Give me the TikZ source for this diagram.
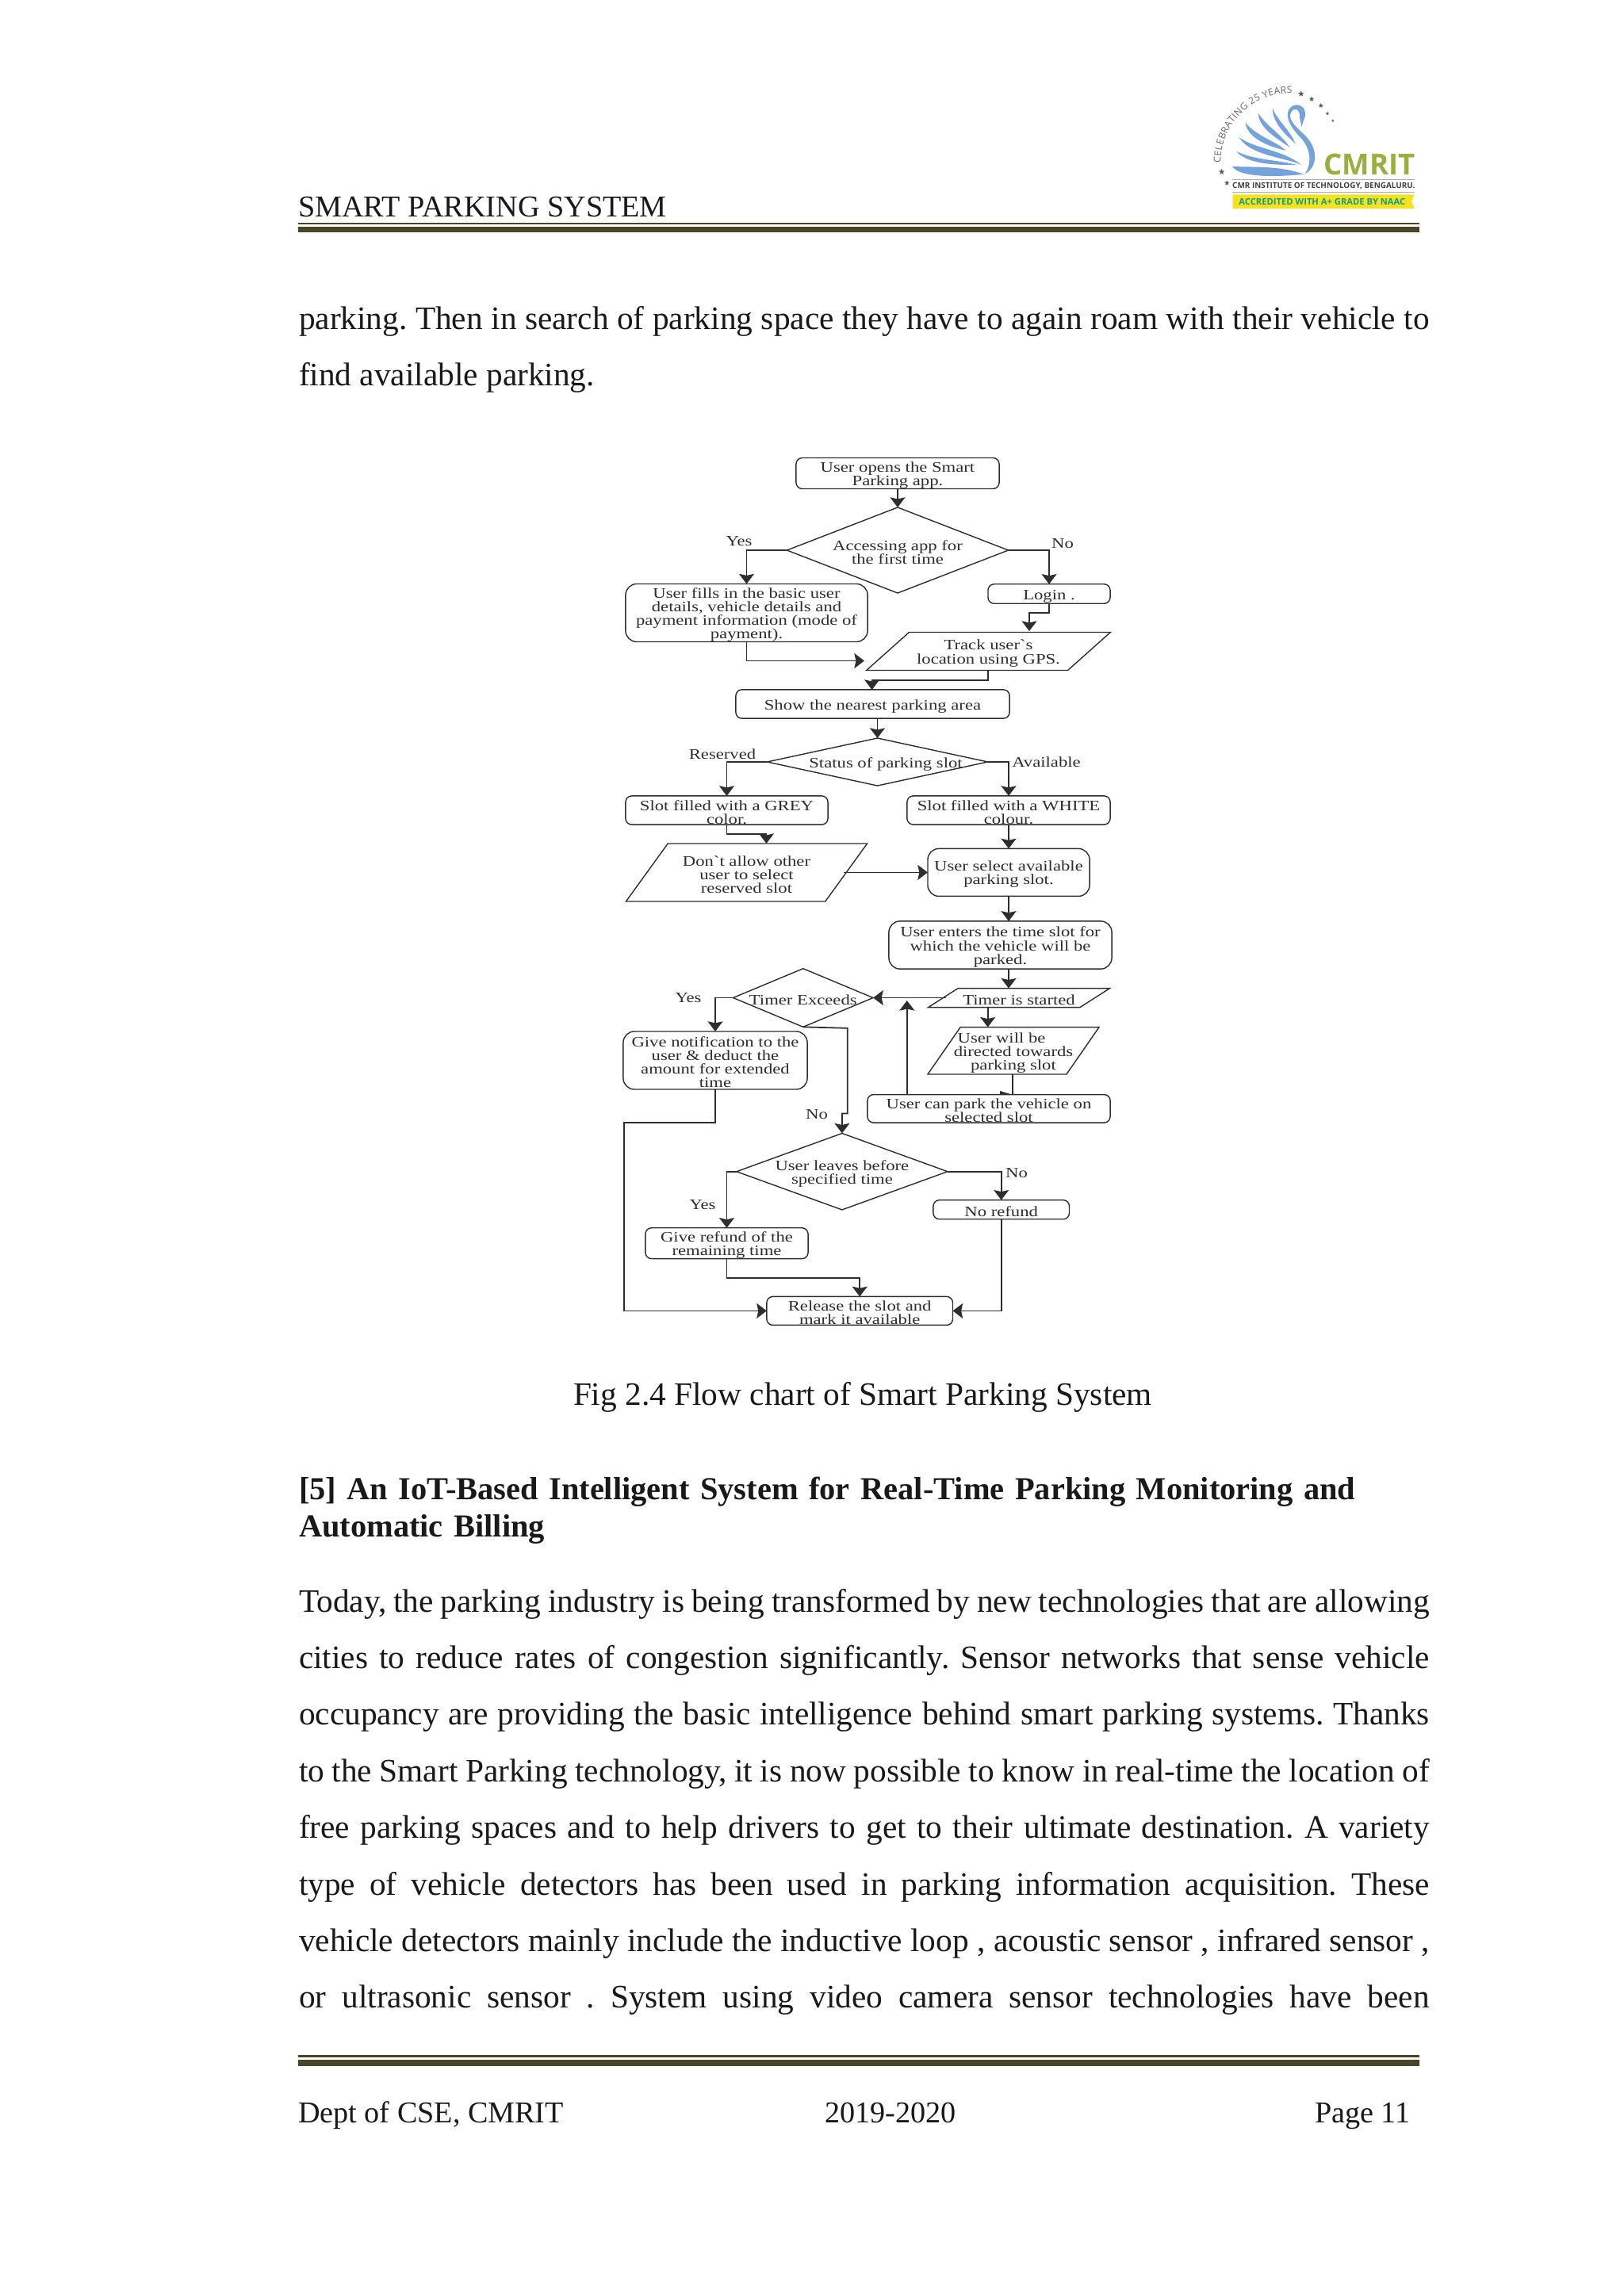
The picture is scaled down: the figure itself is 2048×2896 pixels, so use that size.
\documentclass[tikz,border=0pt]{standalone}
\usepackage{fontspec}
\setmainfont{Liberation Serif}
\newfontfamily\flowfont[FakeStretch=1.24]{Liberation Serif}
\newfontfamily\logofont{Open Sans}
\usetikzlibrary{arrows.meta, shapes.geometric, decorations.text}
\definecolor{rulecol}{HTML}{4A4526}
\definecolor{swancol}{HTML}{74A3DB}
\definecolor{cmritcol}{HTML}{9BAF3E}
\definecolor{bannercol}{HTML}{F5E21F}
\definecolor{naaccol}{HTML}{169C86}
\definecolor{flowcol}{HTML}{2E2E2E}
\frenchspacing
\newcommand{\toplead}{\rule{0pt}{5.1pt}}
\tikzset{
    every node/.style={inner sep=0pt, outer sep=0pt},
    pagetext/.style={font=\fontsize{11.75}{20.3}\selectfont, text=black!90},
    hfoot/.style={pagetext, anchor=base west, font=\fontsize{10.85}{13}\selectfont},
    bodypara/.style={pagetext, anchor=north west, text width=14.25cm, align=justify},
    flowtext/.style={font=\flowfont\fontsize{5.2}{4.85}\selectfont, text=flowcol, align=center},
    procbox/.style={flowtext, draw=flowcol, line width=.4pt, fill=white, rounded corners=2.2pt},
    softbox/.style={procbox, rounded corners=4pt},
    decision/.style={flowtext, draw=flowcol, line width=.4pt, diamond},
    inputbox/.style={flowtext, draw=flowcol, line width=.4pt, trapezium, trapezium stretches=true},
    flow/.style={draw=flowcol, line width=.5pt, -{Stealth[length=3.6pt,width=5.4pt,inset=.6pt]}},
    star5/.style={star, star points=5, star point ratio=2.4, fill=black!65}
}
\begin{document}
\begin{tikzpicture}[x=0.01cm, y=-0.01cm]
    \useasboundingbox (0,0) rectangle (2048,2896);

    % 1. Header with logo
    \node[hfoot] (header) at (376,273) {SMART PARKING SYSTEM};
    \fill[rulecol] (376,280.6) rectangle (1790,282.6);
    \fill[rulecol] (376,285.7) rectangle (1790,293.4);

    \begin{scope}[shift={(1480,80)}, x=0.003333cm, y=-0.003333cm]
        \foreach \sx/\sy/\sz/\i in {483/115/8/1, 523/135/7/2, 558/160/6.5/3, 583/190/5/4, 603/217/4/5, 182/411/8/6, 202/453/7/7} {
            \node[star5, minimum size=\sz*.28pt] (logostar-\i) at (\sx,\sy) {};
        }
        \path[decorate, decoration={text along path, text align={fit to path},
            text={|\logofont\fontsize{3.4}{4}\selectfont\color{black!60}|CELEBRATING 25 YEARS}}]
            (178,376) arc[start angle=180, end angle=272, radius=262];
        % swan: feathers, tips from the tail upwards
        \fill[swancol] (222,390) .. controls (290,395) and (400,385) .. (492,420) .. controls (400,430) and (250,435) .. cycle;
        \fill[swancol] (238,333) .. controls (300,365) and (390,365) .. (470,385) .. controls (400,385) and (280,385) .. cycle;
        \fill[swancol] (248,280) .. controls (310,325) and (410,325) .. (485,385) .. controls (420,355) and (290,350) .. cycle;
        \fill[swancol] (272,225) .. controls (320,280) and (390,295) .. (425,330) .. controls (380,320) and (280,290) .. cycle;
        \fill[swancol] (320,188) .. controls (355,240) and (410,270) .. (440,318) .. controls (395,285) and (325,250) .. cycle;
        \fill[swancol] (375,170) .. controls (395,220) and (440,250) .. (462,305) .. controls (420,265) and (375,225) .. cycle;
        \fill[swancol] (498,418) .. controls (525,380) and (520,320) .. (480,280) .. controls (440,240) and (415,190) .. (445,165)
            .. controls (470,145) and (505,165) .. (498,200) -- (485,240) -- (478,205) .. controls (480,170) and (455,165) .. (445,185)
            .. controls (430,215) and (470,245) .. (500,275) .. controls (550,325) and (545,395) .. cycle;
        \node[font=\logofont\bfseries\fontsize{10.4}{12}\selectfont, text=cmritcol, anchor=base east] (logoname) at (916,422) {CMRIT};
        \draw[black!30, line width=.3pt] (222,440) -- (912,440) (222,488) -- (912,488);
        \node[font=\logofont\bfseries\fontsize{2.82}{4}\selectfont, text=black!75] (logoline) at (569,463) {CMR INSTITUTE OF TECHNOLOGY, BENGALURU.};
        \fill[bannercol] (224,497) -- (912,497) -- (902,523) -- (912,550) -- (224,550) -- cycle;
        \node[font=\logofont\bfseries\fontsize{3.18}{4}\selectfont, text=naaccol] (logobanner) at (563,524) {ACCREDITED WITH A+ GRADE BY NAAC};
    \end{scope}

    % 2. Text above the chart
    \node[bodypara] (intro) at (377,386) {parking. Then in search of parking space they have to again roam with their vehicle to\linebreak find available parking.};

    % 3. Boxes of the flow chart
    \node[procbox, minimum width=2.56cm, minimum height=.365cm] (open) at (1132,597) {\toplead User opens the Smart\\Parking app.};
    \node[decision, aspect=2.6, minimum width=2.79cm, minimum height=1.08cm] (access) at (1132,694) {\toplead Accessing app for\\the first time};
    \node[softbox, minimum width=3.05cm, minimum height=.72cm] (fills) at (941.5,773) {\toplead User fills in the basic user\\details, vehicle details and\\payment information (mode of\\payment).};
    \node[procbox, minimum width=1.54cm, minimum height=.245cm] (login) at (1323,749) {\toplead Login .};
    \node[inputbox, trapezium left angle=38.7, trapezium right angle=141.3, minimum width=3.09cm, minimum height=.48cm] (track) at (1246.5,821.5) {\toplead Track user`s\\location using GPS.};
    \node[procbox, minimum width=3.45cm, minimum height=.363cm] (show) at (1100.5,888) {\toplead Show the nearest parking area};
    \node[decision, inner sep=-1pt, aspect=4.6, minimum width=2.78cm, minimum height=.6cm] (status) at (1106.5,961) {\toplead\hspace*{6pt}Status of parking slot};
    \node[procbox, minimum width=2.55cm, minimum height=.362cm] (greyslot) at (916.5,1022) {\toplead Slot filled with a GREY\\color.};
    \node[procbox, minimum width=2.56cm, minimum height=.362cm] (whiteslot) at (1272,1022) {\toplead Slot filled with a WHITE\\colour.};
    \node[inputbox, trapezium left angle=50.6, trapezium right angle=129.4, minimum width=3.05cm, minimum height=.73cm] (dont) at (941.5,1100.5) {\toplead Don`t allow other\\user to select\\reserved slot};
    \node[softbox, minimum width=2.04cm, minimum height=.6cm] (select) at (1272,1100.4) {\toplead User select available\\parking slot.};
    \node[softbox, minimum width=2.81cm, minimum height=.603cm] (enter) at (1261.5,1192) {\toplead User enters the time slot for\\which the vehicle will be\\parked.};
    \node[inputbox, trapezium left angle=27.6, trapezium right angle=152.4, minimum width=2.3cm, minimum height=.241cm] (timer) at (1285,1258.6) {\toplead Timer is started};
    \node[decision, inner sep=-.6pt, aspect=2.4, minimum width=1.765cm, minimum height=.736cm] (exceeds) at (1012.8,1258.5) {\toplead Timer Exceeds};
    \node[inputbox, inner xsep=-2.6pt, trapezium left angle=54, trapezium right angle=126, minimum width=2.17cm, minimum height=.594cm] (directed) at (1278,1325.3) {\toplead User will be\hspace*{8.5pt}\\directed towards\hspace*{4pt}\\parking slot};
    \node[softbox, minimum width=2.32cm, minimum height=.73cm] (notify) at (902,1337.5) {\toplead Give notification to the\\user \& deduct the\\amount for extended\\time};
    \node[decision, inner sep=-.6pt, aspect=2.75, minimum width=2.66cm, minimum height=.964cm] (leaves) at (1061.9,1477.7) {\toplead User leaves before\\specified time};
    \node[procbox, minimum width=1.715cm, minimum height=.241cm] (norefund) at (1262.7,1525.7) {\toplead No refund};
    \node[procbox, minimum width=2.05cm, minimum height=.365cm] (refund) at (916.5,1568.2) {\toplead Give refund of the\\remaining time};
    \node[procbox, minimum width=2.345cm, minimum height=.36cm] (release) at (1084.2,1653.4) {\toplead Release the slot and\\mark it available};

    % 4. Labels on the branches
    \node[flowtext] (lab-yes1) at (932,683) {Yes};
    \node[flowtext] (lab-no1) at (1340,686) {No};
    \node[flowtext] (lab-res) at (911,951.6) {Reserved};
    \node[flowtext] (lab-ava) at (1319.5,961.3) {Available};
    \node[flowtext] (lab-yes2) at (868,1258.5) {Yes};
    \node[flowtext] (lab-no2) at (1030,1405.8) {No};
    \node[flowtext] (lab-yes3) at (886,1520) {Yes};
    \node[flowtext] (lab-no3) at (1282,1479.7) {No};

    % 5. Ends of connectors which do not meet a node in its middle
    \coordinate (trackin) at (1298,796);
    \coordinate (trackleft) at (1090,833.5);
    \coordinate (trackout) at (1246,845.6);
    \coordinate (showin) at (1099.6,870);
    \coordinate (dontin) at (966.5,1064);
    \coordinate (dontout) at (1063.6,1100.4);
    \coordinate (timerout) at (1193,1258.5);
    \coordinate (timerdown) at (1245.7,1270.7);
    \coordinate (dirin) at (1245.7,1295.6);
    \coordinate (dirout) at (1277,1355);
    \coordinate (parktop) at (1277,1380.6);
    \coordinate (parkout) at (1143.8,1380.6);
    \coordinate (parkup) at (1143.8,1262);

    % 6. Connectors
    \draw[flow] (open) -- (access);
    \draw[flow] (access.west) -| (fills.north);
    \draw[flow] (access.east) -| (login.north);
    \draw[flow] (login.south) -- ++(0,12) -| (trackin);
    \draw[flow] (fills.south) |- (trackleft);
    \draw[flow] (trackout) -- ++(0,12.4) -| (showin);
    \draw[flow] (status.north |- show.south) -- (status.north);
    \draw[flow] (status.west) -| (greyslot.north);
    \draw[flow] (status.east) -| (whiteslot.north);
    \draw[flow] (greyslot.south) -- ++(0,12) -| (dontin);
    \draw[flow] (whiteslot) -- (select);
    \draw[flow] (dontout) -- (select.west);
    \draw[flow] (select.south) -- (select.south |- enter.north);
    \draw[flow] (select.south |- enter.south) -- (select.south |- timer.north);
    \draw[flow] (timerout) -- (exceeds.east);
    \draw[flow] (parkout) -- (parkup);
    \draw[flow] (timerdown) -- (dirin);
    \draw[flowcol, line width=.5pt] (dirout) -- (parktop);
    \fill[flowcol] (1261,1376) -- (1276,1380.6) -- (1261,1380.6) -- cycle;
    \draw[flow] (exceeds.west) -| (notify.north);
    \draw[flow] (exceeds.south) -- ++(56,1.5) -- ++(0,107.7) -| (leaves.north);
    \draw[flow] (leaves.west) -| (refund.north);
    \draw[flow] (leaves.east) -| (norefund.north);
    \draw[flow] (refund.south) -- ++(0,24) -| (release.north);
    \draw[flow] (notify.south) -- ++(0,42) -- ++(-115,0) |- (release.west);
    \draw[flow] (norefund.south) |- (release.east);
    \node[procbox, minimum width=3.06cm, minimum height=.355cm] (park) at (1247,1398.3) {\toplead User can park the vehicle on\\selected slot};

    % 7. Text below the chart
    \node[pagetext] (caption) at (1088,1762) {Fig 2.4 Flow chart of Smart Parking System};
    \node[pagetext, anchor=north west, text width=14.25cm, font=\fontsize{11.5}{13.4}\selectfont\bfseries] (heading) at (377,1863) {[5] An IoT-Based Intelligent System for Real-Time Parking Monitoring and\\Automatic Billing};
    \node[bodypara] (body) at (377,2004) {Today, the parking industry is being transformed by new technologies that are allowing\linebreak
    cities to reduce rates of congestion significantly. Sensor networks that sense vehicle\linebreak
    occupancy are providing the basic intelligence behind smart parking systems. Thanks\linebreak
    to the Smart Parking technology, it is now possible to know in real-time the location of\linebreak
    free parking spaces and to help drivers to get to their ultimate destination. A variety\linebreak
    type of vehicle detectors has been used in parking information acquisition. These\linebreak
    vehicle detectors mainly include the inductive loop , acoustic sensor , infrared sensor ,\linebreak
    or ultrasonic sensor . System using video camera sensor technologies have been\linebreak};

    % 8. Footer
    \fill[rulecol] (376,2592.4) rectangle (1790,2595);
    \fill[rulecol] (376,2598) rectangle (1790,2606);
    \node[hfoot] (footleft) at (376,2677) {Dept of CSE, CMRIT};
    \node[hfoot] (footmid) at (1040,2677) {2019-2020};
    \node[hfoot] (footright) at (1658,2677) {Page 11};
\end{tikzpicture}
\end{document}
